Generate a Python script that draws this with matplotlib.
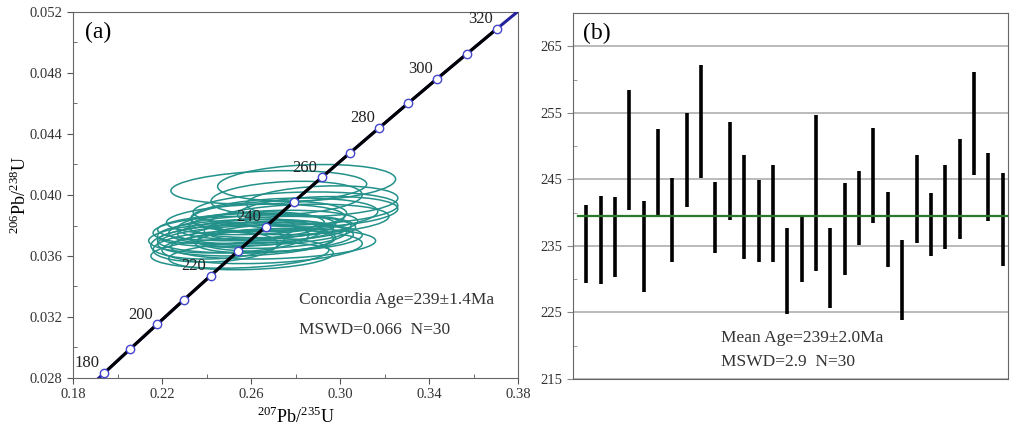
import numpy as np
import matplotlib
matplotlib.use("Agg")
import matplotlib.pyplot as plt
from matplotlib.patches import Ellipse
from matplotlib.transforms import Affine2D

plt.rcParams['font.family'] = ['Liberation Serif', 'DejaVu Serif']
plt.rcParams['mathtext.fontset'] = 'custom'
plt.rcParams['mathtext.rm'] = 'Liberation Serif'

# concordia points (Ma) and their ratios
conc_age = [170, 180, 190, 200, 210, 220, 230, 240, 250, 260, 270, 280, 290, 300, 310, 320, 330]
conc_x = [0.18226, 0.19396, 0.20576, 0.21771, 0.22974, 0.24191, 0.25420, 0.26664, 0.27916,
          0.29182, 0.30458, 0.31752, 0.33057, 0.34374, 0.35707, 0.37045, 0.38403]
conc_y = [0.026722, 0.028317, 0.029913, 0.031511, 0.033113, 0.034717, 0.036323, 0.037932, 0.039543,
          0.041157, 0.042774, 0.044392, 0.046014, 0.047638, 0.049264, 0.050893, 0.052524]

# error ellipses: centre x, centre y, half-width, half-height, rho
ell_cx = [0.268, 0.285, 0.292, 0.280, 0.275, 0.262, 0.270, 0.258, 0.265, 0.255,
          0.268, 0.262, 0.258, 0.272, 0.250, 0.245, 0.265, 0.255, 0.260, 0.270,
          0.290, 0.276, 0.268, 0.260, 0.248, 0.273, 0.262, 0.266, 0.282, 0.244]
ell_cy = [0.0405, 0.0408, 0.0396, 0.0391, 0.0387, 0.0384, 0.0381, 0.0379, 0.0377, 0.0375,
          0.0374, 0.0372, 0.0370, 0.0378, 0.0372, 0.0369, 0.0366, 0.0362, 0.0360, 0.0368,
          0.0389, 0.0398, 0.0386, 0.0380, 0.0377, 0.0372, 0.0376, 0.0370, 0.0384, 0.0366]
ell_a = [0.044, 0.040, 0.034, 0.046, 0.042, 0.040, 0.038, 0.040, 0.042, 0.037,
         0.035, 0.044, 0.040, 0.033, 0.036, 0.030, 0.045, 0.040, 0.037, 0.046,
         0.036, 0.034, 0.035, 0.033, 0.032, 0.037, 0.035, 0.031, 0.040, 0.028]
ell_b = [0.0011, 0.0012, 0.0010, 0.0011, 0.0011, 0.0010, 0.0009, 0.0009, 0.0010, 0.0009,
         0.0009, 0.0010, 0.0010, 0.0008, 0.0010, 0.0011, 0.0011, 0.0010, 0.0009, 0.0010,
         0.0010, 0.0011, 0.0010, 0.0009, 0.0009, 0.0009, 0.0008, 0.0008, 0.0010, 0.0010]
ell_rho = [0.2] * 30

# weighted mean plot: age ranges of each spot
bar_top = [241.1, 242.5, 242.3, 258.4, 241.7, 252.6, 245.2, 254.9, 262.2, 244.6,
           253.6, 248.6, 244.9, 247.1, 237.7, 239.5, 254.6, 237.7, 244.4, 246.2,
           252.7, 243.1, 235.9, 248.6, 243.0, 247.1, 251.1, 261.2, 248.9, 246.0]
bar_bot = [229.5, 229.3, 230.4, 240.4, 228.1, 239.7, 232.6, 240.8, 245.2, 233.9,
           238.9, 233.0, 232.6, 232.6, 224.8, 229.6, 231.2, 225.6, 230.6, 235.1,
           238.4, 231.8, 223.9, 235.5, 233.5, 234.5, 236.0, 245.7, 238.8, 232.0]
mean_age = 239.5

x_major = [0.18, 0.22, 0.26, 0.30, 0.34, 0.38]
x_minor = [0.20, 0.24, 0.28, 0.32, 0.36]
y_major = [0.028, 0.032, 0.036, 0.040, 0.044, 0.048, 0.052]
y_minor = [0.030, 0.034, 0.038, 0.042, 0.046, 0.050]
age_major = [215, 225, 235, 245, 255, 265]
age_minor = [220, 230, 240, 250, 260]

fig = plt.figure(figsize=(10.1, 4.28), dpi=100)
ax1 = fig.add_axes([73/1010, 50/428, 445/1010, 366/428])
ax2 = fig.add_axes([573/1010, 49/428, 435/1010, 366/428])

# ---- (a) concordia ----
for i in range(len(ell_cx)):
    m = Affine2D.from_values(ell_a[i], ell_b[i]*ell_rho[i], 0,
                             ell_b[i]*np.sqrt(1-ell_rho[i]**2), ell_cx[i], ell_cy[i])
    e = Ellipse((0, 0), 2, 2, fill=False, edgecolor='#23918a', lw=1.1,
                transform=m + ax1.transData)
    ax1.add_patch(e)

ax1.plot(conc_x, conc_y, color='#22229a', lw=2.2, zorder=3)
ax1.plot(conc_x[1:-1], conc_y[1:-1], color='black', lw=2.2, zorder=4)
ax1.plot(conc_x[1:-1], conc_y[1:-1], 'o', ms=6, mfc='white', mec='#4444cc', mew=1.0, zorder=5)
for age, x, y in zip(conc_age, conc_x, conc_y):
    if age % 20 == 0 and 180 <= age <= 320:
        ax1.annotate(str(age), (x, y), xytext=(-12, 7), textcoords='offset points',
                     ha='center', va='center', fontsize=12, color='#222222', zorder=6)

ax1.set_xlim(0.18, 0.38)
ax1.set_ylim(0.028, 0.052)
ax1.set_xticks(x_major)
ax1.set_xticklabels(['%.2f' % v for v in x_major])
ax1.set_xticks(x_minor, minor=True)
ax1.set_yticks(y_major)
ax1.set_yticklabels(['%.3f' % v for v in y_major])
ax1.set_yticks(y_minor, minor=True)
ax1.tick_params(which='major', direction='out', length=4, labelsize=10.5,
                labelcolor='#333333', color='#555555')
ax1.tick_params(which='minor', direction='in', length=3, color='#555555')
ax1.set_xlabel(r'$^{207}$Pb/$^{235}$U', fontsize=13, labelpad=4)
ax1.set_ylabel(r'$^{206}$Pb/$^{238}$U', fontsize=13, labelpad=0)
for s in ax1.spines.values():
    s.set_color('#666666')
ax1.text(0.027, 0.943, '(a)', transform=ax1.transAxes, fontsize=17, va='center')
ax1.text(0.508, 0.213, 'Concordia Age=239±1.4Ma', transform=ax1.transAxes,
         fontsize=12.5, va='center', color='#333333')
ax1.text(0.508, 0.131, 'MSWD=0.066  N=30', transform=ax1.transAxes,
         fontsize=12.5, va='center', color='#333333')

# ---- (b) weighted mean ----
idx = np.arange(1, len(bar_top) + 1)
ax2.set_xlim(0.08, 30.37)
ax2.set_ylim(215, 270)
ax2.set_yticks(age_major)
ax2.set_yticks(age_minor, minor=True)
ax2.set_xticks([])
ax2.grid(axis='y', which='major', color='#b5b5b5', lw=1.3)
ax2.set_axisbelow(True)
ax2.vlines(idx, bar_bot, bar_top, color='black', lw=2.6, zorder=3)
ax2.axhline(mean_age, xmin=0.012, color='#2a7a2a', lw=1.6, zorder=4)
ax2.tick_params(which='major', direction='out', length=4, labelsize=10.5,
                labelcolor='#333333', color='#888888')
ax2.tick_params(which='minor', direction='in', length=3, color='#888888')
for s in ax2.spines.values():
    s.set_color('#666666')
ax2.text(0.023, 0.943, '(b)', transform=ax2.transAxes, fontsize=17, va='center')
ax2.text(0.340, 0.112, 'Mean Age=239±2.0Ma', transform=ax2.transAxes,
         fontsize=12.5, va='center', color='#333333')
ax2.text(0.340, 0.046, 'MSWD=2.9  N=30', transform=ax2.transAxes,
         fontsize=12.5, va='center', color='#333333')

fig.savefig('out.png', dpi=100)
